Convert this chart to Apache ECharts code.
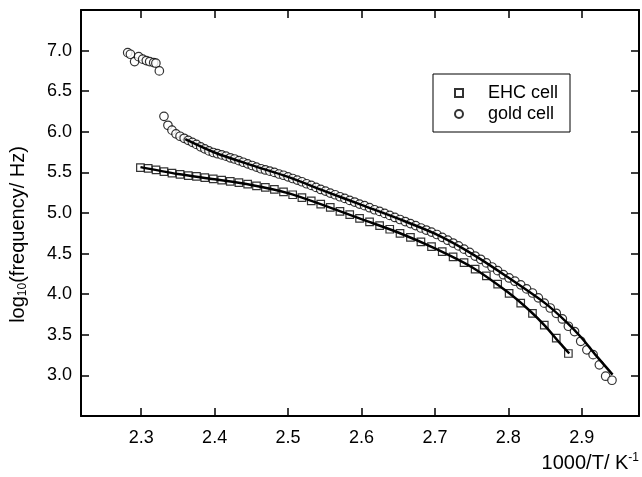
<!DOCTYPE html>
<html>
<head>
<meta charset="utf-8">
<script src="https://cdn.jsdelivr.net/npm/echarts@6/dist/echarts.min.js"></script>
<style>
  html, body { margin: 0; padding: 0; background: #fff; }
  #chart { width: 642px; height: 477px; }
</style>
</head>
<body>
<div id="chart"></div>
<script>
// Relaxation frequency vs. inverse temperature for two cells

// EHC cell measurements (1000/T in K^-1, log10 f in Hz)
const ehcX = [2.2989, 2.3095, 2.3202, 2.3310, 2.3419, 2.3529, 2.3641, 2.3753, 2.3866, 2.3981,
  2.4096, 2.4213, 2.4331, 2.4450, 2.4570, 2.4691, 2.4814, 2.4938, 2.5063, 2.5189,
  2.5316, 2.5445, 2.5575, 2.5707, 2.5840, 2.5974, 2.6110, 2.6247, 2.6385, 2.6525,
  2.6667, 2.6810, 2.6954, 2.7100, 2.7248, 2.7397, 2.7548, 2.7701, 2.7855, 2.8011,
  2.8169, 2.8329, 2.8490, 2.8653, 2.8818];
const ehcY = [5.56, 5.55, 5.53, 5.51, 5.49, 5.475, 5.46, 5.45, 5.435, 5.42,
  5.405, 5.39, 5.375, 5.355, 5.335, 5.315, 5.29, 5.26, 5.225, 5.19,
  5.15, 5.11, 5.07, 5.02, 4.98, 4.935, 4.89, 4.845, 4.80, 4.75,
  4.70, 4.645, 4.585, 4.525, 4.46, 4.39, 4.31, 4.225, 4.125, 4.01,
  3.89, 3.765, 3.62, 3.46, 3.27];

// gold cell measurements
const goldX = [2.2816, 2.2853, 2.2910, 2.2965, 2.3020, 2.3070, 2.3115, 2.3170, 2.3200, 2.3247,
  2.3310, 2.3364, 2.3419, 2.3474, 2.3529, 2.3585, 2.3641, 2.3697, 2.3753, 2.3810,
  2.3866, 2.3923, 2.3981, 2.4038, 2.4096, 2.4155, 2.4213, 2.4272, 2.4331, 2.4390,
  2.4450, 2.4510, 2.4570, 2.4631, 2.4691, 2.4752, 2.4814, 2.4876, 2.4938, 2.5000,
  2.5063, 2.5126, 2.5189, 2.5253, 2.5316, 2.5381, 2.5445, 2.5510, 2.5575, 2.5641,
  2.5707, 2.5773, 2.5840, 2.5907, 2.5974, 2.6042, 2.6110, 2.6178, 2.6247, 2.6316,
  2.6385, 2.6455, 2.6525, 2.6596, 2.6667, 2.6738, 2.6810, 2.6882, 2.6954, 2.7027,
  2.7100, 2.7174, 2.7248, 2.7322, 2.7397, 2.7473, 2.7548, 2.7624, 2.7701, 2.7778,
  2.7855, 2.7933, 2.8011, 2.8090, 2.8169, 2.8249, 2.8329, 2.8409, 2.8490, 2.8571,
  2.8653, 2.8736, 2.8818, 2.8902, 2.8986, 2.9070, 2.9155, 2.9240, 2.9326, 2.9412];
const goldY = [6.975, 6.955, 6.865, 6.925, 6.895, 6.877, 6.865, 6.852, 6.845, 6.75,
  6.19, 6.08, 6.02, 5.975, 5.945, 5.92, 5.895, 5.87, 5.845, 5.815,
  5.79, 5.765, 5.745, 5.73, 5.715, 5.70, 5.68, 5.665, 5.645, 5.625,
  5.605, 5.585, 5.565, 5.545, 5.53, 5.515, 5.50, 5.48, 5.465, 5.445,
  5.425, 5.405, 5.385, 5.36, 5.34, 5.315, 5.29, 5.27, 5.245, 5.225,
  5.20, 5.18, 5.155, 5.135, 5.11, 5.09, 5.065, 5.04, 5.02, 4.995,
  4.97, 4.945, 4.92, 4.895, 4.87, 4.845, 4.815, 4.79, 4.765, 4.735,
  4.70, 4.665, 4.63, 4.595, 4.555, 4.515, 4.47, 4.43, 4.385, 4.335,
  4.29, 4.24, 4.20, 4.16, 4.115, 4.065, 4.015, 3.955, 3.89, 3.83,
  3.765, 3.695, 3.605, 3.54, 3.42, 3.315, 3.255, 3.13, 2.99, 2.94];

// fitted curves through each data set
const ehcFitX = [2.299, 2.35, 2.40, 2.45, 2.50, 2.55, 2.60, 2.65, 2.70, 2.75, 2.80, 2.83, 2.85, 2.87, 2.883];
const ehcFitY = [5.565, 5.48, 5.415, 5.345, 5.245, 5.09, 4.925, 4.76, 4.565, 4.335, 4.02, 3.79, 3.61, 3.40, 3.27];
const goldFitX = [2.36, 2.40, 2.45, 2.50, 2.55, 2.60, 2.65, 2.70, 2.75, 2.80, 2.85, 2.88, 2.90, 2.92, 2.942];
const goldFitY = [5.91, 5.745, 5.59, 5.445, 5.27, 5.10, 4.93, 4.745, 4.50, 4.205, 3.89, 3.65, 3.46, 3.24, 3.01];

// axis ticks
const xTicks = [2.3, 2.4, 2.5, 2.6, 2.7, 2.8, 2.9];
const yTicks = [2.5, 3.0, 3.5, 4.0, 4.5, 5.0, 5.5, 6.0, 6.5, 7.0, 7.5];
const yLabels = [3.0, 3.5, 4.0, 4.5, 5.0, 5.5, 6.0, 6.5, 7.0];

const pairs = (xs, ys) => xs.map((x, i) => [x, ys[i]]);

const FONT = '"Liberation Sans", Arial, sans-serif';
const frameLine = { show: true, lineStyle: { color: '#000', width: 2 } };
const tickStyle = { color: '#000', width: 1.5 };

const chart = echarts.init(document.getElementById('chart'), null, { renderer: 'canvas' });

chart.setOption({
  animation: false,
  backgroundColor: '#fff',
  grid: { left: 81, right: 2, top: 10, bottom: 61, containLabel: false },
  legend: {
    left: 433,
    top: 74,
    orient: 'vertical',
    data: [{ name: 'EHC cell', icon: 'rect' }, { name: 'gold cell', icon: 'circle' }],
    itemWidth: 8,
    itemHeight: 8,
    itemGap: 3,
    padding: [10, 12, 9, 21],
    borderColor: '#000',
    borderWidth: 1,
    textStyle: { fontFamily: FONT, fontSize: 18, color: '#000', padding: [0, 0, 0, 20] }
  },
  xAxis: [
    {
      type: 'value', position: 'bottom', min: 2.218, max: 2.978,
      axisLine: frameLine,
      axisTick: { show: true, inside: true, length: 8, lineStyle: tickStyle, customValues: xTicks },
      axisLabel: {
        customValues: xTicks, formatter: v => v.toFixed(1),
        fontFamily: FONT, fontSize: 18, color: '#000', margin: 13
      },
      splitLine: { show: false },
      name: '1000/T/ K{sup|-1}',
      nameLocation: 'end',
      nameGap: 0,
      nameTextStyle: {
        fontFamily: FONT, fontSize: 20, color: '#000',
        align: 'right', verticalAlign: 'top', padding: [36, 0, 0, 0],
        rich: { sup: { fontFamily: FONT, fontSize: 12, color: '#000', padding: [0, 0, 10, 0] } }
      }
    },
    {
      type: 'value', position: 'top', min: 2.218, max: 2.978,
      axisLine: frameLine,
      axisTick: { show: true, inside: true, length: 8, lineStyle: tickStyle, customValues: xTicks },
      axisLabel: { show: false },
      splitLine: { show: false }
    }
  ],
  yAxis: [
    {
      type: 'value', position: 'left', min: 2.5, max: 7.5, interval: 0.5,
      axisLine: frameLine,
      axisTick: { show: true, inside: true, length: 8, lineStyle: tickStyle, customValues: yTicks },
      axisLabel: {
        customValues: yLabels, formatter: v => v.toFixed(1),
        fontFamily: FONT, fontSize: 18, color: '#000', margin: 9
      },
      splitLine: { show: false },
      name: 'log{sub|10}(frequency/ Hz)',
      nameLocation: 'middle',
      nameGap: 52,
      nameTextStyle: {
        fontFamily: FONT, fontSize: 20, color: '#000', padding: [0, 43, 0, 0],
        rich: { sub: { fontFamily: FONT, fontSize: 12, color: '#000', padding: [10, 0, 0, 0] } }
      }
    },
    {
      type: 'value', position: 'right', min: 2.5, max: 7.5, interval: 0.5,
      axisLine: frameLine,
      axisTick: { show: true, inside: true, length: 8, lineStyle: tickStyle, customValues: yTicks },
      axisLabel: { show: false },
      splitLine: { show: false }
    }
  ],
  series: [
    {
      name: 'EHC cell', type: 'scatter', xAxisIndex: 0, yAxisIndex: 0,
      data: pairs(ehcX, ehcY), symbol: 'rect', symbolSize: 7.5,
      itemStyle: { color: '#fff', borderColor: '#000', borderWidth: 1.2 }
    },
    {
      name: 'gold cell', type: 'scatter', xAxisIndex: 0, yAxisIndex: 0,
      data: pairs(goldX, goldY), symbol: 'circle', symbolSize: 8.5,
      itemStyle: { color: '#fff', borderColor: '#000', borderWidth: 1.2 }
    },
    {
      name: 'EHC fit', type: 'line', xAxisIndex: 0, yAxisIndex: 0,
      data: pairs(ehcFitX, ehcFitY), showSymbol: false, smooth: 0.3,
      lineStyle: { color: '#000', width: 2.5 }, z: 3, silent: true
    },
    {
      name: 'gold fit', type: 'line', xAxisIndex: 0, yAxisIndex: 0,
      data: pairs(goldFitX, goldFitY), showSymbol: false, smooth: 0.3,
      lineStyle: { color: '#000', width: 2.5 }, z: 3, silent: true
    }
  ]
});
</script>
</body>
</html>
